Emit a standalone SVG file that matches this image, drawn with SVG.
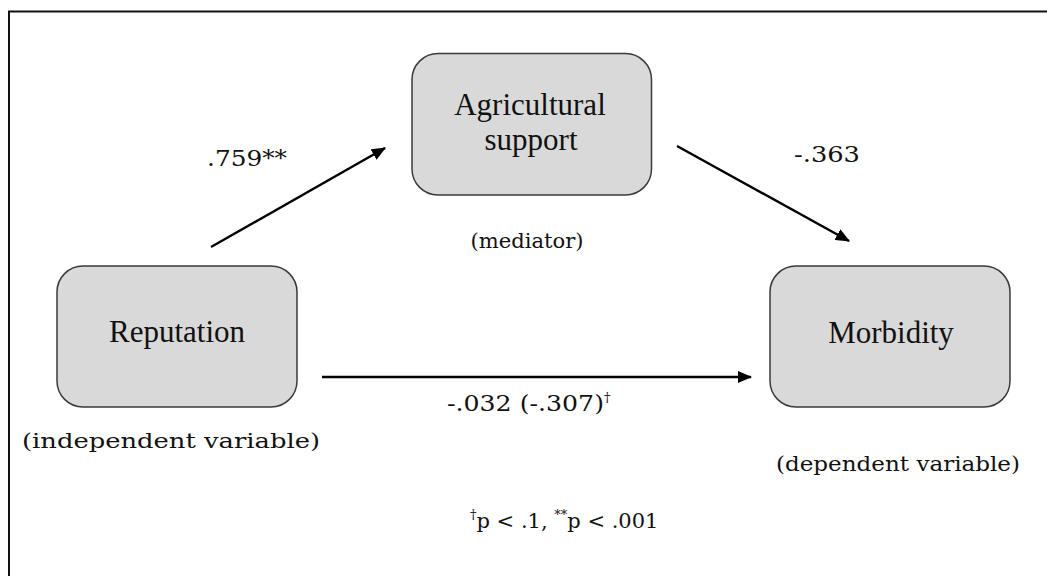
<svg xmlns="http://www.w3.org/2000/svg" width="1047" height="576" viewBox="0 0 1047 576">
  <style>
    .box { fill: #d9d9d9; stroke: #3a3a3a; stroke-width: 1.5; }
    .name { font-family: "Liberation Serif", serif; font-size: 31px; fill: #111; text-anchor: middle; }
    .note { font-family: "DejaVu Serif", "Liberation Serif", serif; font-size: 21px; fill: #111; }
    .num { font-size: 22px; }
    .edge { stroke: #000; stroke-width: 2.4; fill: none; marker-end: url(#arrow); }
  </style>
  <defs>
    <marker id="arrow" markerWidth="6" markerHeight="5" refX="5.5" refY="2.5" orient="auto" markerUnits="strokeWidth">
      <path d="M0,0 L6,2.5 L0,5 Z" fill="#000"/>
    </marker>
  </defs>
  <rect x="0" y="0" width="1047" height="576" fill="#fff"/>
  <!-- outer frame, open on the right and bottom -->
  <path d="M9,580 L9,11.5 L1050,11.5" fill="none" stroke="#111" stroke-width="2"/>

  <g id="mediator">
    <rect class="box" x="412" y="53.5" width="239.5" height="141.5" rx="26"/>
    <text class="name" x="530" y="115">Agricultural</text>
    <text class="name" x="531" y="150">support</text>
    <text class="note" x="527" y="248" text-anchor="middle" textLength="113" lengthAdjust="spacingAndGlyphs">(mediator)</text>
  </g>

  <g id="independent">
    <rect class="box" x="57" y="266" width="240" height="141" rx="26"/>
    <text class="name" x="177" y="342">Reputation</text>
    <text class="note" x="171" y="448" text-anchor="middle" textLength="298" lengthAdjust="spacingAndGlyphs">(independent variable)</text>
  </g>

  <g id="dependent">
    <rect class="box" x="770" y="266" width="240" height="141" rx="26"/>
    <text class="name" x="891" y="343">Morbidity</text>
    <text class="note" x="898" y="471" text-anchor="middle" textLength="244" lengthAdjust="spacingAndGlyphs">(dependent variable)</text>
  </g>

  <g id="connectors">
    <line class="edge" x1="211" y1="247" x2="385" y2="148"/>
    <line class="edge" x1="677" y1="146" x2="849" y2="241"/>
    <line class="edge" x1="322" y1="377" x2="751" y2="377"/>
    <text class="note num" x="207" y="166" textLength="80" lengthAdjust="spacingAndGlyphs">.759**</text>
    <text class="note num" x="794" y="162" textLength="66" lengthAdjust="spacingAndGlyphs">-.363</text>
    <text class="note num" x="447" y="411"><tspan textLength="157" lengthAdjust="spacingAndGlyphs">-.032 (-.307)</tspan><tspan font-size="13" dy="-9">†</tspan></text>
  </g>

  <text class="note" x="470" y="528" font-size="20"><tspan font-size="13" dy="-9">†</tspan><tspan dy="9">p &lt; .1, </tspan><tspan font-size="13" dy="-9">**</tspan><tspan dy="9">p &lt; .001</tspan></text>
</svg>
